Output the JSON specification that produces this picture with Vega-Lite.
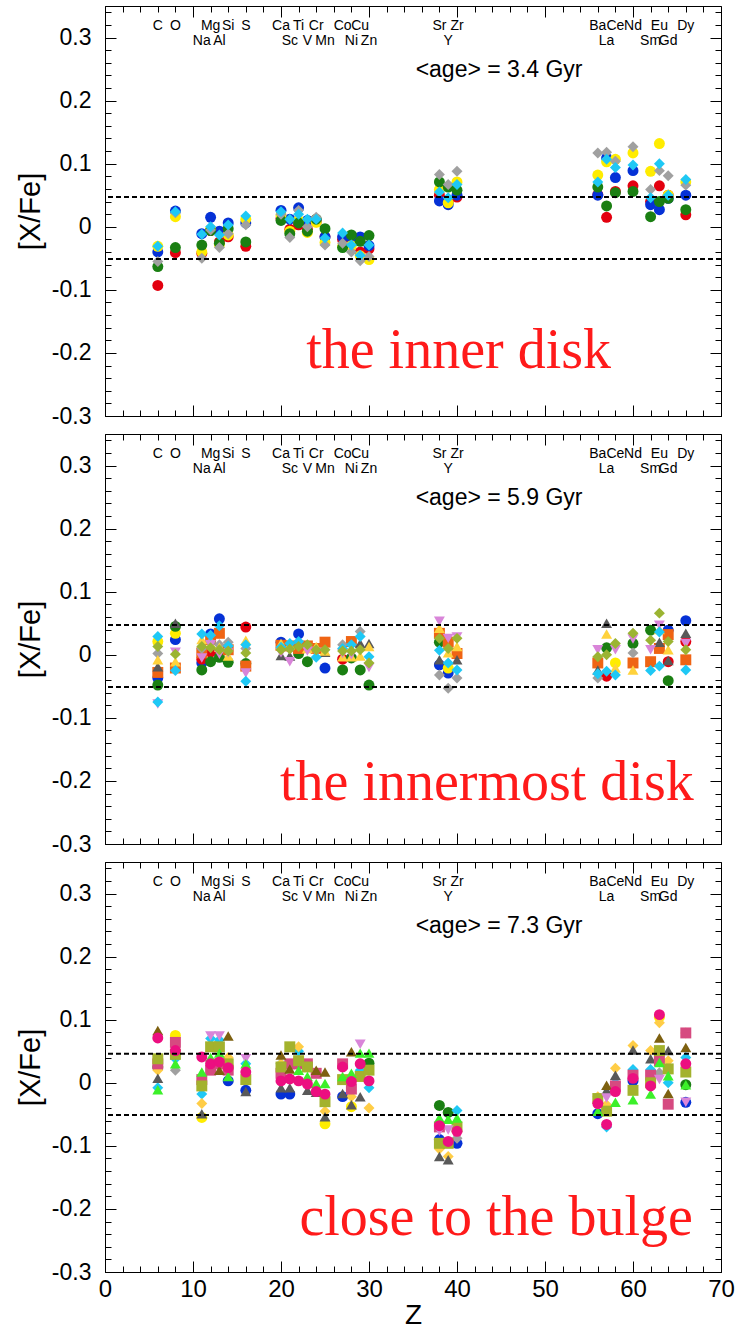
{
"$schema": "https://vega.github.io/schema/vega-lite/v6.json",
"background": "white",
"padding": {"left": 15, "top": 0, "right": 8, "bottom": 0},
"spacing": 18,
"bounds": "flush",
"config": {"font": "Liberation Sans", "view": {"stroke": "#000", "strokeWidth": 1}, "axis": {"domainColor": "#000", "labelColor": "#000", "titleColor": "#000", "labelOverlap": false, "labelFlush": false, "tickCount": 1000}},
"datasets": {
"el": [
{"z":6,"lab":"C","row":1},{"z":8,"lab":"O","row":1},{"z":12,"lab":"Mg","row":1},{"z":14,"lab":"Si","row":1},{"z":16,"lab":"S","row":1},{"z":20,"lab":"Ca","row":1},{"z":22,"lab":"Ti","row":1},{"z":24,"lab":"Cr","row":1},{"z":27,"lab":"Co","row":1},{"z":29,"lab":"Cu","row":1},{"z":38,"lab":"Sr","row":1},{"z":40,"lab":"Zr","row":1},{"z":56,"lab":"Ba","row":1},{"z":58,"lab":"Ce","row":1},{"z":60,"lab":"Nd","row":1},{"z":63,"lab":"Eu","row":1},{"z":66,"lab":"Dy","row":1},
{"z":11,"lab":"Na","row":2},{"z":13,"lab":"Al","row":2},{"z":21,"lab":"Sc","row":2},{"z":23,"lab":"V","row":2},{"z":25,"lab":"Mn","row":2},{"z":28,"lab":"Ni","row":2},{"z":30,"lab":"Zn","row":2},{"z":39,"lab":"Y","row":2},{"z":57,"lab":"La","row":2},{"z":62,"lab":"Sm","row":2},{"z":64,"lab":"Gd","row":2}
],
"p1": [
{"s":"red_c","z":6,"v":-0.093},{"s":"red_c","z":8,"v":-0.041},{"s":"red_c","z":11,"v":-0.042},{"s":"red_c","z":12,"v":-0.006},{"s":"red_c","z":13,"v":-0.024},{"s":"red_c","z":14,"v":-0.016},{"s":"red_c","z":16,"v":-0.031},{"s":"red_c","z":20,"v":0.013},{"s":"red_c","z":21,"v":-0.004},{"s":"red_c","z":22,"v":0.003},{"s":"red_c","z":23,"v":-0.004},{"s":"red_c","z":24,"v":0.008},{"s":"red_c","z":25,"v":-0.016},{"s":"red_c","z":27,"v":-0.020},{"s":"red_c","z":28,"v":-0.020},{"s":"red_c","z":29,"v":-0.040},{"s":"red_c","z":30,"v":-0.035},{"s":"red_c","z":38,"v":0.050},{"s":"red_c","z":39,"v":0.040},{"s":"red_c","z":40,"v":0.047},{"s":"red_c","z":56,"v":0.051},{"s":"red_c","z":57,"v":0.015},{"s":"red_c","z":58,"v":0.056},{"s":"red_c","z":60,"v":0.065},{"s":"red_c","z":62,"v":0.040},{"s":"red_c","z":63,"v":0.065},{"s":"red_c","z":64,"v":0.050},{"s":"red_c","z":66,"v":0.019},
{"s":"blue_c","z":6,"v":-0.040},{"s":"blue_c","z":8,"v":0.025},{"s":"blue_c","z":11,"v":-0.011},{"s":"blue_c","z":12,"v":0.015},{"s":"blue_c","z":13,"v":-0.007},{"s":"blue_c","z":14,"v":0.006},{"s":"blue_c","z":16,"v":0.006},{"s":"blue_c","z":20,"v":0.026},{"s":"blue_c","z":21,"v":0.012},{"s":"blue_c","z":22,"v":0.030},{"s":"blue_c","z":23,"v":0.010},{"s":"blue_c","z":24,"v":0.010},{"s":"blue_c","z":25,"v":-0.016},{"s":"blue_c","z":27,"v":-0.016},{"s":"blue_c","z":28,"v":-0.018},{"s":"blue_c","z":29,"v":-0.016},{"s":"blue_c","z":30,"v":-0.030},{"s":"blue_c","z":38,"v":0.041},{"s":"blue_c","z":39,"v":0.035},{"s":"blue_c","z":40,"v":0.050},{"s":"blue_c","z":56,"v":0.050},{"s":"blue_c","z":57,"v":0.109},{"s":"blue_c","z":58,"v":0.078},{"s":"blue_c","z":60,"v":0.089},{"s":"blue_c","z":62,"v":0.035},{"s":"blue_c","z":63,"v":0.027},{"s":"blue_c","z":64,"v":0.045},{"s":"blue_c","z":66,"v":0.050},
{"s":"yel_c","z":6,"v":-0.031},{"s":"yel_c","z":8,"v":0.016},{"s":"yel_c","z":11,"v":-0.040},{"s":"yel_c","z":12,"v":-0.004},{"s":"yel_c","z":13,"v":-0.028},{"s":"yel_c","z":14,"v":-0.013},{"s":"yel_c","z":16,"v":0.012},{"s":"yel_c","z":20,"v":0.018},{"s":"yel_c","z":21,"v":-0.007},{"s":"yel_c","z":22,"v":0.010},{"s":"yel_c","z":23,"v":-0.009},{"s":"yel_c","z":24,"v":0.007},{"s":"yel_c","z":25,"v":-0.025},{"s":"yel_c","z":27,"v":-0.031},{"s":"yel_c","z":28,"v":-0.030},{"s":"yel_c","z":29,"v":-0.046},{"s":"yel_c","z":30,"v":-0.052},{"s":"yel_c","z":38,"v":0.059},{"s":"yel_c","z":39,"v":0.038},{"s":"yel_c","z":40,"v":0.071},{"s":"yel_c","z":56,"v":0.082},{"s":"yel_c","z":57,"v":0.103},{"s":"yel_c","z":58,"v":0.107},{"s":"yel_c","z":60,"v":0.117},{"s":"yel_c","z":62,"v":0.088},{"s":"yel_c","z":63,"v":0.132},{"s":"yel_c","z":64,"v":0.050},{"s":"yel_c","z":66,"v":0.071},
{"s":"grn_c","z":6,"v":-0.063},{"s":"grn_c","z":8,"v":-0.033},{"s":"grn_c","z":11,"v":-0.029},{"s":"grn_c","z":12,"v":-0.006},{"s":"grn_c","z":13,"v":-0.026},{"s":"grn_c","z":14,"v":-0.003},{"s":"grn_c","z":16,"v":-0.024},{"s":"grn_c","z":20,"v":0.010},{"s":"grn_c","z":21,"v":-0.011},{"s":"grn_c","z":22,"v":0.006},{"s":"grn_c","z":23,"v":-0.007},{"s":"grn_c","z":24,"v":0.012},{"s":"grn_c","z":25,"v":-0.003},{"s":"grn_c","z":27,"v":-0.033},{"s":"grn_c","z":28,"v":-0.013},{"s":"grn_c","z":29,"v":-0.023},{"s":"grn_c","z":30,"v":-0.014},{"s":"grn_c","z":38,"v":0.071},{"s":"grn_c","z":39,"v":0.063},{"s":"grn_c","z":40,"v":0.058},{"s":"grn_c","z":56,"v":0.063},{"s":"grn_c","z":57,"v":0.033},{"s":"grn_c","z":58,"v":0.054},{"s":"grn_c","z":60,"v":0.056},{"s":"grn_c","z":62,"v":0.016},{"s":"grn_c","z":63,"v":0.040},{"s":"grn_c","z":64,"v":0.045},{"s":"grn_c","z":66,"v":0.027},
{"s":"gry_d","z":6,"v":-0.055},{"s":"gry_d","z":8,"v":0.022},{"s":"gry_d","z":11,"v":-0.050},{"s":"gry_d","z":12,"v":-0.005},{"s":"gry_d","z":13,"v":-0.033},{"s":"gry_d","z":14,"v":-0.011},{"s":"gry_d","z":16,"v":0.003},{"s":"gry_d","z":20,"v":0.020},{"s":"gry_d","z":21,"v":-0.017},{"s":"gry_d","z":22,"v":0.026},{"s":"gry_d","z":23,"v":0.000},{"s":"gry_d","z":24,"v":0.015},{"s":"gry_d","z":25,"v":-0.029},{"s":"gry_d","z":27,"v":-0.026},{"s":"gry_d","z":28,"v":-0.040},{"s":"gry_d","z":29,"v":-0.054},{"s":"gry_d","z":30,"v":-0.047},{"s":"gry_d","z":38,"v":0.083},{"s":"gry_d","z":39,"v":0.067},{"s":"gry_d","z":40,"v":0.088},{"s":"gry_d","z":56,"v":0.117},{"s":"gry_d","z":57,"v":0.118},{"s":"gry_d","z":58,"v":0.104},{"s":"gry_d","z":60,"v":0.127},{"s":"gry_d","z":62,"v":0.059},{"s":"gry_d","z":63,"v":0.089},{"s":"gry_d","z":64,"v":0.081},{"s":"gry_d","z":66,"v":0.066},
{"s":"cyn_d","z":6,"v":-0.031},{"s":"cyn_d","z":8,"v":0.024},{"s":"cyn_d","z":11,"v":-0.012},{"s":"cyn_d","z":12,"v":0.000},{"s":"cyn_d","z":13,"v":-0.013},{"s":"cyn_d","z":14,"v":0.003},{"s":"cyn_d","z":16,"v":0.017},{"s":"cyn_d","z":20,"v":0.024},{"s":"cyn_d","z":21,"v":0.012},{"s":"cyn_d","z":22,"v":0.020},{"s":"cyn_d","z":23,"v":0.012},{"s":"cyn_d","z":24,"v":0.012},{"s":"cyn_d","z":25,"v":-0.018},{"s":"cyn_d","z":27,"v":-0.010},{"s":"cyn_d","z":28,"v":-0.029},{"s":"cyn_d","z":29,"v":-0.045},{"s":"cyn_d","z":30,"v":-0.029},{"s":"cyn_d","z":38,"v":0.055},{"s":"cyn_d","z":39,"v":0.046},{"s":"cyn_d","z":40,"v":0.067},{"s":"cyn_d","z":56,"v":0.071},{"s":"cyn_d","z":57,"v":0.107},{"s":"cyn_d","z":58,"v":0.094},{"s":"cyn_d","z":60,"v":0.098},{"s":"cyn_d","z":62,"v":0.046},{"s":"cyn_d","z":63,"v":0.100},{"s":"cyn_d","z":64,"v":0.050},{"s":"cyn_d","z":66,"v":0.075}
],
"p2": [
{"s":"blue_c","z":6,"v":-0.037},{"s":"blue_c","z":8,"v":0.024},{"s":"blue_c","z":11,"v":-0.013},{"s":"blue_c","z":12,"v":0.033},{"s":"blue_c","z":13,"v":0.057},{"s":"blue_c","z":20,"v":0.020},{"s":"blue_c","z":22,"v":0.033},{"s":"blue_c","z":25,"v":-0.021},{"s":"blue_c","z":38,"v":-0.016},{"s":"blue_c","z":39,"v":-0.029},{"s":"blue_c","z":64,"v":0.039},{"s":"blue_c","z":66,"v":0.054},
{"s":"yel_c","z":6,"v":0.021},{"s":"yel_c","z":8,"v":0.034},{"s":"yel_c","z":12,"v":0.008},{"s":"yel_c","z":39,"v":-0.021},{"s":"yel_c","z":58,"v":-0.013},
{"s":"red_c","z":11,"v":-0.007},{"s":"red_c","z":12,"v":0.004},{"s":"red_c","z":16,"v":0.044},{"s":"red_c","z":27,"v":-0.007},{"s":"red_c","z":57,"v":-0.034},{"s":"red_c","z":64,"v":-0.011},{"s":"red_c","z":66,"v":0.021},
{"s":"grn_c","z":6,"v":-0.048},{"s":"grn_c","z":8,"v":0.045},{"s":"grn_c","z":11,"v":-0.024},{"s":"grn_c","z":12,"v":-0.011},{"s":"grn_c","z":13,"v":-0.004},{"s":"grn_c","z":14,"v":-0.012},{"s":"grn_c","z":16,"v":-0.014},{"s":"grn_c","z":22,"v":0.002},{"s":"grn_c","z":23,"v":-0.011},{"s":"grn_c","z":27,"v":-0.024},{"s":"grn_c","z":28,"v":-0.005},{"s":"grn_c","z":29,"v":-0.024},{"s":"grn_c","z":30,"v":-0.048},{"s":"grn_c","z":38,"v":0.020},{"s":"grn_c","z":57,"v":0.011},{"s":"grn_c","z":60,"v":0.018},{"s":"grn_c","z":62,"v":0.039},{"s":"grn_c","z":64,"v":-0.041},
{"s":"org_s","z":6,"v":-0.028},{"s":"org_s","z":8,"v":-0.021},{"s":"org_s","z":11,"v":0.003},{"s":"org_s","z":12,"v":0.024},{"s":"org_s","z":13,"v":0.034},{"s":"org_s","z":14,"v":0.008},{"s":"org_s","z":16,"v":-0.018},{"s":"org_s","z":20,"v":0.015},{"s":"org_s","z":21,"v":0.014},{"s":"org_s","z":22,"v":0.010},{"s":"org_s","z":23,"v":0.014},{"s":"org_s","z":24,"v":0.010},{"s":"org_s","z":25,"v":0.020},{"s":"org_s","z":28,"v":0.021},{"s":"org_s","z":38,"v":0.034},{"s":"org_s","z":39,"v":0.020},{"s":"org_s","z":40,"v":0.002},{"s":"org_s","z":56,"v":-0.013},{"s":"org_s","z":60,"v":-0.013},{"s":"org_s","z":62,"v":-0.011},{"s":"org_s","z":63,"v":0.010},{"s":"org_s","z":64,"v":0.032},{"s":"org_s","z":66,"v":-0.008},
{"s":"gry_d","z":6,"v":0.002},{"s":"gry_d","z":11,"v":0.010},{"s":"gry_d","z":12,"v":0.020},{"s":"gry_d","z":13,"v":0.016},{"s":"gry_d","z":14,"v":0.020},{"s":"gry_d","z":16,"v":0.010},{"s":"gry_d","z":21,"v":0.010},{"s":"gry_d","z":27,"v":0.016},{"s":"gry_d","z":29,"v":0.037},{"s":"gry_d","z":38,"v":-0.032},{"s":"gry_d","z":39,"v":-0.053},{"s":"gry_d","z":40,"v":-0.037},{"s":"gry_d","z":56,"v":-0.037},{"s":"gry_d","z":60,"v":0.003},
{"s":"dgy_t","z":6,"v":-0.019},{"s":"dgy_t","z":8,"v":0.050},{"s":"dgy_t","z":20,"v":-0.001},{"s":"dgy_t","z":21,"v":-0.002},{"s":"dgy_t","z":25,"v":0.004},{"s":"dgy_t","z":29,"v":0.018},{"s":"dgy_t","z":30,"v":0.018},{"s":"dgy_t","z":38,"v":-0.008},{"s":"dgy_t","z":40,"v":-0.008},{"s":"dgy_t","z":56,"v":-0.024},{"s":"dgy_t","z":57,"v":0.050},{"s":"dgy_t","z":63,"v":0.020},{"s":"dgy_t","z":64,"v":-0.009},{"s":"dgy_t","z":66,"v":0.034},
{"s":"ylo_t","z":6,"v":-0.008},{"s":"ylo_t","z":8,"v":-0.011},{"s":"ylo_t","z":11,"v":0.024},{"s":"ylo_t","z":13,"v":0.012},{"s":"ylo_t","z":14,"v":-0.002},{"s":"ylo_t","z":16,"v":0.023},{"s":"ylo_t","z":20,"v":0.018},{"s":"ylo_t","z":21,"v":0.015},{"s":"ylo_t","z":23,"v":0.010},{"s":"ylo_t","z":24,"v":0.013},{"s":"ylo_t","z":25,"v":0.006},{"s":"ylo_t","z":27,"v":-0.003},{"s":"ylo_t","z":28,"v":-0.003},{"s":"ylo_t","z":29,"v":-0.002},{"s":"ylo_t","z":30,"v":0.013},{"s":"ylo_t","z":38,"v":0.042},{"s":"ylo_t","z":39,"v":0.003},{"s":"ylo_t","z":40,"v":0.013},{"s":"ylo_t","z":57,"v":0.033},{"s":"ylo_t","z":58,"v":-0.021},{"s":"ylo_t","z":60,"v":-0.024},{"s":"ylo_t","z":63,"v":0.040},{"s":"ylo_t","z":64,"v":0.008},
{"s":"vio_v","z":6,"v":-0.078},{"s":"vio_v","z":8,"v":0.004},{"s":"vio_v","z":11,"v":-0.005},{"s":"vio_v","z":12,"v":0.016},{"s":"vio_v","z":13,"v":0.001},{"s":"vio_v","z":14,"v":0.003},{"s":"vio_v","z":16,"v":-0.029},{"s":"vio_v","z":20,"v":0.003},{"s":"vio_v","z":21,"v":-0.011},{"s":"vio_v","z":23,"v":0.006},{"s":"vio_v","z":24,"v":0.004},{"s":"vio_v","z":27,"v":0.002},{"s":"vio_v","z":28,"v":0.000},{"s":"vio_v","z":30,"v":-0.020},{"s":"vio_v","z":38,"v":0.053},{"s":"vio_v","z":39,"v":0.026},{"s":"vio_v","z":40,"v":0.028},{"s":"vio_v","z":56,"v":0.008},{"s":"vio_v","z":58,"v":0.008},{"s":"vio_v","z":60,"v":0.025},{"s":"vio_v","z":62,"v":0.008},{"s":"vio_v","z":63,"v":0.047},{"s":"vio_v","z":66,"v":0.018},
{"s":"cyn_d","z":6,"v":0.029},{"s":"cyn_d","z":6,"v":-0.075},{"s":"cyn_d","z":8,"v":-0.025},{"s":"cyn_d","z":11,"v":0.033},{"s":"cyn_d","z":12,"v":0.031},{"s":"cyn_d","z":13,"v":0.046},{"s":"cyn_d","z":14,"v":0.014},{"s":"cyn_d","z":16,"v":0.016},{"s":"cyn_d","z":16,"v":-0.042},{"s":"cyn_d","z":20,"v":0.012},{"s":"cyn_d","z":21,"v":0.018},{"s":"cyn_d","z":22,"v":0.021},{"s":"cyn_d","z":24,"v":-0.004},{"s":"cyn_d","z":27,"v":0.010},{"s":"cyn_d","z":28,"v":0.016},{"s":"cyn_d","z":29,"v":0.029},{"s":"cyn_d","z":30,"v":-0.003},{"s":"cyn_d","z":38,"v":0.007},{"s":"cyn_d","z":39,"v":-0.013},{"s":"cyn_d","z":40,"v":-0.024},{"s":"cyn_d","z":56,"v":-0.030},{"s":"cyn_d","z":57,"v":-0.026},{"s":"cyn_d","z":58,"v":-0.032},{"s":"cyn_d","z":62,"v":-0.025},{"s":"cyn_d","z":63,"v":0.036},{"s":"cyn_d","z":63,"v":-0.018},{"s":"cyn_d","z":66,"v":-0.024},
{"s":"olv_d","z":6,"v":0.013},{"s":"olv_d","z":8,"v":0.001},{"s":"olv_d","z":11,"v":0.013},{"s":"olv_d","z":12,"v":0.011},{"s":"olv_d","z":13,"v":0.008},{"s":"olv_d","z":14,"v":0.006},{"s":"olv_d","z":16,"v":0.003},{"s":"olv_d","z":20,"v":0.008},{"s":"olv_d","z":21,"v":0.009},{"s":"olv_d","z":22,"v":0.013},{"s":"olv_d","z":23,"v":0.016},{"s":"olv_d","z":24,"v":0.008},{"s":"olv_d","z":25,"v":0.008},{"s":"olv_d","z":27,"v":0.006},{"s":"olv_d","z":28,"v":0.006},{"s":"olv_d","z":29,"v":0.008},{"s":"olv_d","z":30,"v":-0.013},{"s":"olv_d","z":38,"v":0.026},{"s":"olv_d","z":39,"v":0.010},{"s":"olv_d","z":40,"v":0.026},{"s":"olv_d","z":56,"v":-0.003},{"s":"olv_d","z":57,"v":0.000},{"s":"olv_d","z":58,"v":0.018},{"s":"olv_d","z":60,"v":0.034},{"s":"olv_d","z":62,"v":0.023},{"s":"olv_d","z":63,"v":0.066},{"s":"olv_d","z":64,"v":0.021},{"s":"olv_d","z":66,"v":0.008}
],
"p3": [
{"s":"blue_c","z":14,"v":0.003},{"s":"blue_c","z":16,"v":-0.012},{"s":"blue_c","z":20,"v":-0.018},{"s":"blue_c","z":21,"v":-0.018},{"s":"blue_c","z":27,"v":-0.022},{"s":"blue_c","z":38,"v":-0.090},{"s":"blue_c","z":40,"v":-0.096},{"s":"blue_c","z":56,"v":-0.049},{"s":"blue_c","z":60,"v":0.003},{"s":"blue_c","z":66,"v":-0.031},
{"s":"yel_c","z":8,"v":0.075},{"s":"yel_c","z":11,"v":-0.055},{"s":"yel_c","z":25,"v":-0.065},{"s":"yel_c","z":28,"v":-0.038},{"s":"yel_c","z":63,"v":0.104},
{"s":"grn_c","z":6,"v":0.025},{"s":"grn_c","z":30,"v":0.031},{"s":"grn_c","z":38,"v":-0.036},{"s":"grn_c","z":39,"v":-0.047},{"s":"grn_c","z":66,"v":-0.003},
{"s":"gry_d","z":8,"v":0.020},{"s":"gry_d","z":40,"v":-0.088},{"s":"gry_d","z":63,"v":0.016},
{"s":"cyn_d","z":6,"v":-0.008},{"s":"cyn_d","z":8,"v":0.038},{"s":"cyn_d","z":11,"v":-0.018},{"s":"cyn_d","z":12,"v":0.070},{"s":"cyn_d","z":13,"v":0.068},{"s":"cyn_d","z":16,"v":0.030},{"s":"cyn_d","z":20,"v":0.030},{"s":"cyn_d","z":22,"v":0.050},{"s":"cyn_d","z":29,"v":0.020},{"s":"cyn_d","z":30,"v":-0.008},{"s":"cyn_d","z":40,"v":-0.044},{"s":"cyn_d","z":57,"v":-0.070},{"s":"cyn_d","z":58,"v":0.000},{"s":"cyn_d","z":60,"v":0.021},{"s":"cyn_d","z":62,"v":0.021},{"s":"cyn_d","z":63,"v":0.045},{"s":"cyn_d","z":64,"v":0.000},{"s":"cyn_d","z":66,"v":0.040},
{"s":"ylo_d","z":6,"v":0.020},{"s":"ylo_d","z":11,"v":-0.033},{"s":"ylo_d","z":14,"v":0.040},{"s":"ylo_d","z":20,"v":0.030},{"s":"ylo_d","z":22,"v":0.057},{"s":"ylo_d","z":25,"v":-0.045},{"s":"ylo_d","z":28,"v":-0.022},{"s":"ylo_d","z":30,"v":-0.040},{"s":"ylo_d","z":38,"v":-0.105},{"s":"ylo_d","z":39,"v":-0.117},{"s":"ylo_d","z":56,"v":-0.022},{"s":"ylo_d","z":57,"v":-0.035},{"s":"ylo_d","z":58,"v":0.023},{"s":"ylo_d","z":60,"v":0.059},{"s":"ylo_d","z":62,"v":0.051},{"s":"ylo_d","z":63,"v":0.095},{"s":"ylo_d","z":64,"v":0.035},{"s":"ylo_d","z":66,"v":0.079},
{"s":"dgy_t","z":6,"v":0.007},{"s":"dgy_t","z":11,"v":-0.049},{"s":"dgy_t","z":16,"v":-0.014},{"s":"dgy_t","z":20,"v":-0.008},{"s":"dgy_t","z":21,"v":-0.008},{"s":"dgy_t","z":23,"v":-0.012},{"s":"dgy_t","z":24,"v":-0.015},{"s":"dgy_t","z":25,"v":-0.054},{"s":"dgy_t","z":27,"v":-0.017},{"s":"dgy_t","z":28,"v":-0.035},{"s":"dgy_t","z":29,"v":-0.022},{"s":"dgy_t","z":38,"v":-0.117},{"s":"dgy_t","z":39,"v":-0.122},{"s":"dgy_t","z":57,"v":-0.012},{"s":"dgy_t","z":58,"v":0.012},{"s":"dgy_t","z":60,"v":0.052},{"s":"dgy_t","z":62,"v":0.038},{"s":"dgy_t","z":64,"v":0.051},
{"s":"pnk_s","z":6,"v":0.030},{"s":"pnk_s","z":8,"v":0.064},{"s":"pnk_s","z":11,"v":0.005},{"s":"pnk_s","z":12,"v":0.020},{"s":"pnk_s","z":13,"v":0.030},{"s":"pnk_s","z":14,"v":0.020},{"s":"pnk_s","z":20,"v":0.015},{"s":"pnk_s","z":21,"v":0.030},{"s":"pnk_s","z":22,"v":0.030},{"s":"pnk_s","z":23,"v":0.030},{"s":"pnk_s","z":24,"v":0.015},{"s":"pnk_s","z":27,"v":0.030},{"s":"pnk_s","z":28,"v":-0.010},{"s":"pnk_s","z":38,"v":-0.070},{"s":"pnk_s","z":58,"v":-0.005},{"s":"pnk_s","z":60,"v":0.012},{"s":"pnk_s","z":62,"v":0.012},{"s":"pnk_s","z":63,"v":0.035},{"s":"pnk_s","z":64,"v":-0.034},{"s":"pnk_s","z":66,"v":0.079},
{"s":"olv_s","z":6,"v":0.038},{"s":"olv_s","z":8,"v":0.045},{"s":"olv_s","z":11,"v":-0.005},{"s":"olv_s","z":12,"v":0.057},{"s":"olv_s","z":13,"v":0.057},{"s":"olv_s","z":14,"v":0.030},{"s":"olv_s","z":16,"v":0.005},{"s":"olv_s","z":20,"v":0.025},{"s":"olv_s","z":21,"v":0.057},{"s":"olv_s","z":22,"v":0.035},{"s":"olv_s","z":23,"v":0.025},{"s":"olv_s","z":25,"v":-0.030},{"s":"olv_s","z":27,"v":0.005},{"s":"olv_s","z":29,"v":0.010},{"s":"olv_s","z":30,"v":0.020},{"s":"olv_s","z":38,"v":-0.096},{"s":"olv_s","z":39,"v":-0.096},{"s":"olv_s","z":40,"v":-0.070},{"s":"olv_s","z":56,"v":-0.025},{"s":"olv_s","z":57,"v":-0.045},{"s":"olv_s","z":60,"v":-0.012},{"s":"olv_s","z":62,"v":0.000},{"s":"olv_s","z":63,"v":0.051},{"s":"olv_s","z":64,"v":0.022},{"s":"olv_s","z":66,"v":0.017},
{"s":"brn_t","z":6,"v":0.083},{"s":"brn_t","z":13,"v":0.020},{"s":"brn_t","z":14,"v":0.074},{"s":"brn_t","z":20,"v":0.044},{"s":"brn_t","z":21,"v":0.022},{"s":"brn_t","z":24,"v":0.020},{"s":"brn_t","z":25,"v":0.017},{"s":"brn_t","z":28,"v":0.049},{"s":"brn_t","z":57,"v":-0.004},{"s":"brn_t","z":63,"v":0.071},{"s":"brn_t","z":64,"v":-0.017},{"s":"brn_t","z":66,"v":0.056},
{"s":"vio_v","z":12,"v":0.074},{"s":"vio_v","z":13,"v":0.074},{"s":"vio_v","z":16,"v":0.038},{"s":"vio_v","z":29,"v":0.061},{"s":"vio_v","z":38,"v":-0.077},{"s":"vio_v","z":39,"v":-0.075},{"s":"vio_v","z":57,"v":-0.024},{"s":"vio_v","z":63,"v":0.005},{"s":"vio_v","z":66,"v":-0.031},
{"s":"lgr_t","z":6,"v":-0.011},{"s":"lgr_t","z":8,"v":0.030},{"s":"lgr_t","z":11,"v":0.017},{"s":"lgr_t","z":12,"v":0.040},{"s":"lgr_t","z":13,"v":0.047},{"s":"lgr_t","z":14,"v":0.010},{"s":"lgr_t","z":16,"v":0.030},{"s":"lgr_t","z":22,"v":0.020},{"s":"lgr_t","z":23,"v":0.010},{"s":"lgr_t","z":24,"v":-0.001},{"s":"lgr_t","z":25,"v":-0.001},{"s":"lgr_t","z":27,"v":0.010},{"s":"lgr_t","z":28,"v":0.015},{"s":"lgr_t","z":29,"v":0.047},{"s":"lgr_t","z":30,"v":0.047},{"s":"lgr_t","z":38,"v":-0.056},{"s":"lgr_t","z":39,"v":-0.058},{"s":"lgr_t","z":40,"v":-0.056},{"s":"lgr_t","z":56,"v":-0.045},{"s":"lgr_t","z":58,"v":-0.031},{"s":"lgr_t","z":60,"v":-0.027},{"s":"lgr_t","z":62,"v":-0.018},{"s":"lgr_t","z":63,"v":0.032},{"s":"lgr_t","z":64,"v":0.011},{"s":"lgr_t","z":66,"v":-0.003},
{"s":"mag_c","z":6,"v":0.071},{"s":"mag_c","z":8,"v":0.051},{"s":"mag_c","z":11,"v":0.041},{"s":"mag_c","z":12,"v":0.030},{"s":"mag_c","z":13,"v":0.033},{"s":"mag_c","z":14,"v":0.024},{"s":"mag_c","z":16,"v":0.017},{"s":"mag_c","z":20,"v":0.003},{"s":"mag_c","z":21,"v":0.006},{"s":"mag_c","z":22,"v":0.003},{"s":"mag_c","z":23,"v":-0.002},{"s":"mag_c","z":24,"v":-0.014},{"s":"mag_c","z":25,"v":-0.018},{"s":"mag_c","z":27,"v":0.025},{"s":"mag_c","z":28,"v":0.002},{"s":"mag_c","z":29,"v":0.030},{"s":"mag_c","z":30,"v":0.003},{"s":"mag_c","z":38,"v":-0.068},{"s":"mag_c","z":39,"v":-0.093},{"s":"mag_c","z":40,"v":-0.077},{"s":"mag_c","z":56,"v":-0.033},{"s":"mag_c","z":57,"v":-0.066},{"s":"mag_c","z":58,"v":-0.014},{"s":"mag_c","z":60,"v":0.007},{"s":"mag_c","z":62,"v":-0.005},{"s":"mag_c","z":63,"v":0.108},{"s":"mag_c","z":66,"v":0.030}
]
},
"vconcat": [
{
"width": 616, "height": 410,
"layer": [
{"data": {"name": "p1"}, "mark": {"type": "point", "filled": true, "size": 120, "opacity": 1},
 "encoding": {
  "x": {"field": "z", "type": "quantitative", "scale": {"domain": [0, 70], "nice": false, "zero": false},
   "axis": {"values": [0,2,4,6,8,10,12,14,16,18,20,22,24,26,28,30,32,34,36,38,40,42,44,46,48,50,52,54,56,58,60,62,64,66,68,70], "tickCount": 1000, "labels": false, "ticks": false, "title": null, "domainColor": "#000", "grid": true, "gridColor": "#000", "gridOpacity": 1, "gridWidth": 1, "gridDash": {"condition": {"test": "datum.value % 10 === 0", "value": [11, 388, 11, 3000]}, "value": [6, 398, 6, 3000]}}},
  "y": {"field": "v", "type": "quantitative", "scale": {"domain": [-0.3, 0.35], "nice": false, "zero": false},
   "axis": {"values": [-0.3,-0.28,-0.26,-0.24,-0.22,-0.2,-0.18,-0.16,-0.14,-0.12,-0.1,-0.08,-0.06,-0.04,-0.02,0,0.02,0.04,0.06,0.08,0.1,0.12,0.14,0.16,0.18,0.2,0.22,0.24,0.26,0.28,0.3,0.32,0.34], "tickCount": 1000,
    "labelExpr": "abs(datum.value*10 - round(datum.value*10)) < 0.001 ? (datum.value < -0.0001 ? '-' : '') + format(abs(datum.value), '.1~f') : ''",
    "labelFontSize": 23, "labelPadding": 14, "labelOverlap": false, "labelFlush": false, "ticks": false, "domainColor": "#000",
    "title": "[X/Fe]", "titleFontSize": 29, "titleFontWeight": "normal", "titlePadding": 6,
    "grid": true, "gridColor": "#000", "gridOpacity": 1, "gridWidth": 1, "gridDash": {"condition": {"test": "abs(datum.value*10 - round(datum.value*10)) < 0.001", "value": [11, 594, 11, 3000]}, "value": [6, 604, 6, 3000]}}},
  "color": {"field": "s", "type": "nominal", "legend": null, "scale": {"domain": ["red_c","blue_c","yel_c","grn_c","gry_d","cyn_d","org_s","dgy_t","ylo_t","vio_v","olv_d","mag_c","brn_t","lgr_t","olv_s","pnk_s","ylo_d"], "range": ["#e3000f","#0531d6","#ffec00","#1a7f12","#a0a0a0","#1ec8f5","#ef6414","#595959","#ffd23c","#d985d9","#9bb432","#ec0f80","#7d6010","#3cf02a","#a3b22d","#d64a80","#ffcd46"]}},
  "shape": {"field": "s", "type": "nominal", "legend": null, "scale": {"domain": ["red_c","blue_c","yel_c","grn_c","gry_d","cyn_d","org_s","dgy_t","ylo_t","vio_v","olv_d","mag_c","brn_t","lgr_t","olv_s","pnk_s","ylo_d"], "range": ["circle","circle","circle","circle","diamond","diamond","square","triangle-up","triangle-up","triangle-down","diamond","circle","triangle-up","triangle-up","square","square","diamond"]}}
 }},
{"data": {"values": [{"v": 0.047}, {"v": -0.051}]}, "mark": {"type": "rule", "color": "#000", "strokeWidth": 2, "strokeDash": [5, 3]}, "encoding": {"y": {"field": "v", "type": "quantitative"}}},
{"data": {"name": "el"}, "transform": [{"filter": "datum.row == 1"}], "mark": {"type": "text", "fontSize": 14, "baseline": "middle", "align": "center", "color": "#000"}, "encoding": {"x": {"field": "z", "type": "quantitative"}, "y": {"datum": 0.319}, "text": {"field": "lab"}}},
{"data": {"name": "el"}, "transform": [{"filter": "datum.row == 2"}], "mark": {"type": "text", "fontSize": 14, "baseline": "middle", "align": "center", "color": "#000"}, "encoding": {"x": {"field": "z", "type": "quantitative"}, "y": {"datum": 0.295}, "text": {"field": "lab"}}},
{"data": {"values": [{"t": "<age> = 3.4 Gyr"}]}, "mark": {"type": "text", "fontSize": 23, "baseline": "middle", "align": "left", "color": "#000"}, "encoding": {"x": {"datum": 35.3}, "y": {"datum": 0.248}, "text": {"field": "t"}}},
{"data": {"values": [{"t": "the inner disk"}]}, "mark": {"type": "text", "font": "Liberation Serif", "fontSize": 56, "baseline": "alphabetic", "align": "right", "color": "#ff1a1a"}, "encoding": {"x": {"datum": 57.5}, "y": {"datum": -0.224}, "text": {"field": "t"}}}
]
},
{
"width": 616, "height": 410,
"layer": [
{"data": {"name": "p2"}, "mark": {"type": "point", "filled": true, "size": 120, "opacity": 1},
 "encoding": {
  "x": {"field": "z", "type": "quantitative", "scale": {"domain": [0, 70], "nice": false, "zero": false},
   "axis": {"values": [0,2,4,6,8,10,12,14,16,18,20,22,24,26,28,30,32,34,36,38,40,42,44,46,48,50,52,54,56,58,60,62,64,66,68,70], "tickCount": 1000, "labels": false, "ticks": false, "title": null, "domainColor": "#000", "grid": true, "gridColor": "#000", "gridOpacity": 1, "gridWidth": 1, "gridDash": {"condition": {"test": "datum.value % 10 === 0", "value": [11, 388, 11, 3000]}, "value": [6, 398, 6, 3000]}}},
  "y": {"field": "v", "type": "quantitative", "scale": {"domain": [-0.3, 0.35], "nice": false, "zero": false},
   "axis": {"values": [-0.3,-0.28,-0.26,-0.24,-0.22,-0.2,-0.18,-0.16,-0.14,-0.12,-0.1,-0.08,-0.06,-0.04,-0.02,0,0.02,0.04,0.06,0.08,0.1,0.12,0.14,0.16,0.18,0.2,0.22,0.24,0.26,0.28,0.3,0.32,0.34], "tickCount": 1000,
    "labelExpr": "abs(datum.value*10 - round(datum.value*10)) < 0.001 ? (datum.value < -0.0001 ? '-' : '') + format(abs(datum.value), '.1~f') : ''",
    "labelFontSize": 23, "labelPadding": 14, "labelOverlap": false, "labelFlush": false, "ticks": false, "domainColor": "#000",
    "title": "[X/Fe]", "titleFontSize": 29, "titleFontWeight": "normal", "titlePadding": 6,
    "grid": true, "gridColor": "#000", "gridOpacity": 1, "gridWidth": 1, "gridDash": {"condition": {"test": "abs(datum.value*10 - round(datum.value*10)) < 0.001", "value": [11, 594, 11, 3000]}, "value": [6, 604, 6, 3000]}}},
  "color": {"field": "s", "type": "nominal", "legend": null, "scale": {"domain": ["red_c","blue_c","yel_c","grn_c","gry_d","cyn_d","org_s","dgy_t","ylo_t","vio_v","olv_d","mag_c","brn_t","lgr_t","olv_s","pnk_s","ylo_d"], "range": ["#e3000f","#0531d6","#ffec00","#1a7f12","#a0a0a0","#1ec8f5","#ef6414","#595959","#ffd23c","#d985d9","#9bb432","#ec0f80","#7d6010","#3cf02a","#a3b22d","#d64a80","#ffcd46"]}},
  "shape": {"field": "s", "type": "nominal", "legend": null, "scale": {"domain": ["red_c","blue_c","yel_c","grn_c","gry_d","cyn_d","org_s","dgy_t","ylo_t","vio_v","olv_d","mag_c","brn_t","lgr_t","olv_s","pnk_s","ylo_d"], "range": ["circle","circle","circle","circle","diamond","diamond","square","triangle-up","triangle-up","triangle-down","diamond","circle","triangle-up","triangle-up","square","square","diamond"]}}
 }},
{"data": {"values": [{"v": 0.047}, {"v": -0.051}]}, "mark": {"type": "rule", "color": "#000", "strokeWidth": 2, "strokeDash": [5, 3]}, "encoding": {"y": {"field": "v", "type": "quantitative"}}},
{"data": {"name": "el"}, "transform": [{"filter": "datum.row == 1"}], "mark": {"type": "text", "fontSize": 14, "baseline": "middle", "align": "center", "color": "#000"}, "encoding": {"x": {"field": "z", "type": "quantitative"}, "y": {"datum": 0.319}, "text": {"field": "lab"}}},
{"data": {"name": "el"}, "transform": [{"filter": "datum.row == 2"}], "mark": {"type": "text", "fontSize": 14, "baseline": "middle", "align": "center", "color": "#000"}, "encoding": {"x": {"field": "z", "type": "quantitative"}, "y": {"datum": 0.295}, "text": {"field": "lab"}}},
{"data": {"values": [{"t": "<age> = 5.9 Gyr"}]}, "mark": {"type": "text", "fontSize": 23, "baseline": "middle", "align": "left", "color": "#000"}, "encoding": {"x": {"datum": 35.3}, "y": {"datum": 0.248}, "text": {"field": "t"}}},
{"data": {"values": [{"t": "the innermost disk"}]}, "mark": {"type": "text", "font": "Liberation Serif", "fontSize": 56, "baseline": "alphabetic", "align": "right", "color": "#ff1a1a"}, "encoding": {"x": {"datum": 66.9}, "y": {"datum": -0.23}, "text": {"field": "t"}}}
]
},
{
"width": 616, "height": 410,
"layer": [
{"data": {"name": "p3"}, "mark": {"type": "point", "filled": true, "size": 120, "opacity": 1},
 "encoding": {
  "x": {"field": "z", "type": "quantitative", "scale": {"domain": [0, 70], "nice": false, "zero": false},
   "axis": {"values": [0,2,4,6,8,10,12,14,16,18,20,22,24,26,28,30,32,34,36,38,40,42,44,46,48,50,52,54,56,58,60,62,64,66,68,70], "tickCount": 1000, "labelExpr": "datum.value % 10 === 0 ? format(datum.value, 'd') : ''", "labelFontSize": 24, "labelPadding": 5, "labelOverlap": false, "labelFlush": false, "ticks": false, "title": "Z", "titleFontSize": 28, "titleFontWeight": "normal", "titlePadding": 0, "domainColor": "#000", "grid": true, "gridColor": "#000", "gridOpacity": 1, "gridWidth": 1, "gridDash": {"condition": {"test": "datum.value % 10 === 0", "value": [11, 388, 11, 3000]}, "value": [6, 398, 6, 3000]}}},
  "y": {"field": "v", "type": "quantitative", "scale": {"domain": [-0.3, 0.35], "nice": false, "zero": false},
   "axis": {"values": [-0.3,-0.28,-0.26,-0.24,-0.22,-0.2,-0.18,-0.16,-0.14,-0.12,-0.1,-0.08,-0.06,-0.04,-0.02,0,0.02,0.04,0.06,0.08,0.1,0.12,0.14,0.16,0.18,0.2,0.22,0.24,0.26,0.28,0.3,0.32,0.34], "tickCount": 1000,
    "labelExpr": "abs(datum.value*10 - round(datum.value*10)) < 0.001 ? (datum.value < -0.0001 ? '-' : '') + format(abs(datum.value), '.1~f') : ''",
    "labelFontSize": 23, "labelPadding": 14, "labelOverlap": false, "labelFlush": false, "ticks": false, "domainColor": "#000",
    "title": "[X/Fe]", "titleFontSize": 29, "titleFontWeight": "normal", "titlePadding": 6,
    "grid": true, "gridColor": "#000", "gridOpacity": 1, "gridWidth": 1, "gridDash": {"condition": {"test": "abs(datum.value*10 - round(datum.value*10)) < 0.001", "value": [11, 594, 11, 3000]}, "value": [6, 604, 6, 3000]}}},
  "color": {"field": "s", "type": "nominal", "legend": null, "scale": {"domain": ["red_c","blue_c","yel_c","grn_c","gry_d","cyn_d","org_s","dgy_t","ylo_t","vio_v","olv_d","mag_c","brn_t","lgr_t","olv_s","pnk_s","ylo_d"], "range": ["#e3000f","#0531d6","#ffec00","#1a7f12","#a0a0a0","#1ec8f5","#ef6414","#595959","#ffd23c","#d985d9","#9bb432","#ec0f80","#7d6010","#3cf02a","#a3b22d","#d64a80","#ffcd46"]}},
  "shape": {"field": "s", "type": "nominal", "legend": null, "scale": {"domain": ["red_c","blue_c","yel_c","grn_c","gry_d","cyn_d","org_s","dgy_t","ylo_t","vio_v","olv_d","mag_c","brn_t","lgr_t","olv_s","pnk_s","ylo_d"], "range": ["circle","circle","circle","circle","diamond","diamond","square","triangle-up","triangle-up","triangle-down","diamond","circle","triangle-up","triangle-up","square","square","diamond"]}}
 }},
{"data": {"values": [{"v": 0.046}, {"v": -0.051}]}, "mark": {"type": "rule", "color": "#000", "strokeWidth": 2, "strokeDash": [5, 3]}, "encoding": {"y": {"field": "v", "type": "quantitative"}}},
{"data": {"name": "el"}, "transform": [{"filter": "datum.row == 1"}], "mark": {"type": "text", "fontSize": 14, "baseline": "middle", "align": "center", "color": "#000"}, "encoding": {"x": {"field": "z", "type": "quantitative"}, "y": {"datum": 0.319}, "text": {"field": "lab"}}},
{"data": {"name": "el"}, "transform": [{"filter": "datum.row == 2"}], "mark": {"type": "text", "fontSize": 14, "baseline": "middle", "align": "center", "color": "#000"}, "encoding": {"x": {"field": "z", "type": "quantitative"}, "y": {"datum": 0.295}, "text": {"field": "lab"}}},
{"data": {"values": [{"t": "<age> = 7.3 Gyr"}]}, "mark": {"type": "text", "fontSize": 23, "baseline": "middle", "align": "left", "color": "#000"}, "encoding": {"x": {"datum": 35.3}, "y": {"datum": 0.248}, "text": {"field": "t"}}},
{"data": {"values": [{"t": "close to the bulge"}]}, "mark": {"type": "text", "font": "Liberation Serif", "fontSize": 56, "baseline": "alphabetic", "align": "right", "color": "#ff1a1a"}, "encoding": {"x": {"datum": 66.8}, "y": {"datum": -0.241}, "text": {"field": "t"}}}
]
}
]
}
